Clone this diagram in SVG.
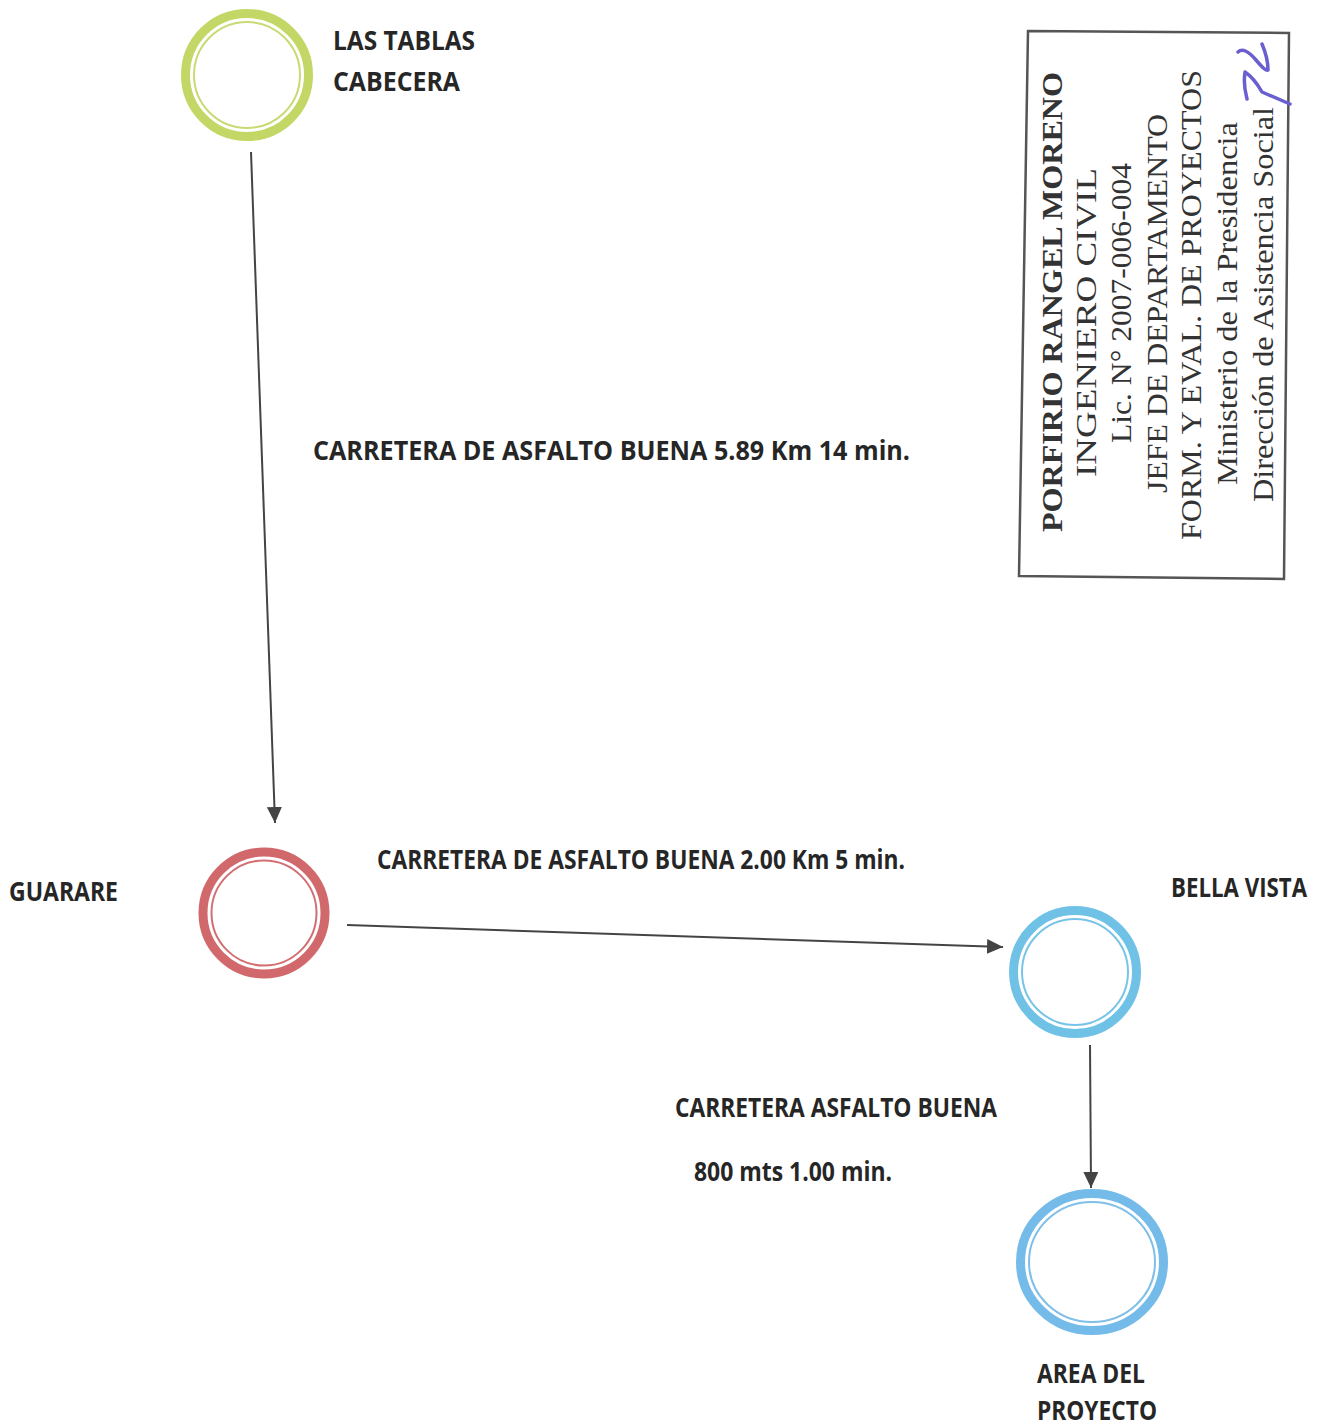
<svg xmlns="http://www.w3.org/2000/svg" width="1323" height="1427" viewBox="0 0 1323 1427">
<defs>
<style>
.lbl{font-family:"Open Sans","Liberation Sans",sans-serif;font-weight:700;font-size:26px;fill:#262626;}
.stamp{font-family:"Liberation Serif","DejaVu Serif",serif;font-size:30px;fill:#333;}
.edge{stroke:#444;stroke-width:2;fill:none;}
.thin{fill:none;stroke-width:2;}
.thick{fill:none;stroke-width:9;}
</style>
<marker id="ah" markerUnits="userSpaceOnUse" markerWidth="17" markerHeight="15" refX="16" refY="7.5" orient="auto">
<path d="M0,0 L16,7.5 L0,15 z" fill="#444"/>
</marker>
</defs>
<rect width="1323" height="1427" fill="#ffffff"/>

<g id="connectors">
<line class="edge" x1="251" y1="152" x2="275" y2="823" marker-end="url(#ah)"/>
<line class="edge" x1="347" y1="925" x2="1003" y2="947" marker-end="url(#ah)"/>
<line class="edge" x1="1090" y1="1045" x2="1091" y2="1188" marker-end="url(#ah)"/>
</g>

<g id="las-tablas">
<circle class="thick" cx="247" cy="75" r="61.5" stroke="#c3d766"/>
<circle class="thin" cx="247" cy="75" r="53" stroke="#c8da74"/>
<text class="lbl" x="333" y="50" textLength="142" lengthAdjust="spacingAndGlyphs">LAS TABLAS</text>
<text class="lbl" x="333" y="91" textLength="127" lengthAdjust="spacingAndGlyphs">CABECERA</text>
</g>

<g id="guarare">
<circle class="thick" cx="264" cy="913" r="61" stroke="#d0686c"/>
<circle class="thin" cx="264" cy="913" r="52.5" stroke="#d26f73"/>
<text class="lbl" x="9" y="901" textLength="109" lengthAdjust="spacingAndGlyphs">GUARARE</text>
</g>

<g id="bella-vista">
<circle class="thick" cx="1075" cy="972" r="61.5" stroke="#6fc2e6"/>
<circle class="thin" cx="1075" cy="972" r="53" stroke="#78c4e6"/>
<text class="lbl" x="1307" y="897" font-size="24" text-anchor="end" textLength="136" lengthAdjust="spacingAndGlyphs">BELLA VISTA</text>
</g>

<g id="area-del-proyecto">
<ellipse class="thick" cx="1092" cy="1262" rx="71.5" ry="68.5" stroke="#74bbea"/>
<ellipse class="thin" cx="1092" cy="1262" rx="63" ry="60" stroke="#7fbfe8"/>
<text class="lbl" x="1037" y="1383" textLength="108" lengthAdjust="spacingAndGlyphs">AREA DEL</text>
<text class="lbl" x="1037" y="1420" textLength="120" lengthAdjust="spacingAndGlyphs">PROYECTO</text>
</g>

<g id="edge-labels">
<text class="lbl" x="313" y="460" textLength="597" lengthAdjust="spacingAndGlyphs">CARRETERA DE ASFALTO BUENA 5.89 Km 14 min.</text>
<text class="lbl" x="377" y="869" textLength="528" lengthAdjust="spacingAndGlyphs">CARRETERA DE ASFALTO BUENA 2.00 Km 5 min.</text>
<text class="lbl" x="675" y="1117" textLength="322" lengthAdjust="spacingAndGlyphs">CARRETERA ASFALTO BUENA</text>
<text class="lbl" x="694" y="1181" textLength="198" lengthAdjust="spacingAndGlyphs">800 mts 1.00 min.</text>
</g>

<g id="stamp">
<polygon points="1028,31 1289,33 1284,579 1019,576" fill="none" stroke="#555" stroke-width="2.5"/>
<text class="stamp" font-weight="700" font-size="32" transform="translate(1062,532) rotate(-90)" textLength="460" lengthAdjust="spacingAndGlyphs">PORFIRIO RANGEL MORENO</text>
<text class="stamp" transform="translate(1096,477) rotate(-90)" textLength="309" lengthAdjust="spacingAndGlyphs">INGENIERO CIVIL</text>
<text class="stamp" transform="translate(1131,443) rotate(-90)" textLength="280" lengthAdjust="spacingAndGlyphs">Lic. N° 2007-006-004</text>
<text class="stamp" transform="translate(1167,493) rotate(-90)" textLength="379" lengthAdjust="spacingAndGlyphs">JEFE DE DEPARTAMENTO</text>
<text class="stamp" transform="translate(1201,540) rotate(-90)" textLength="470" lengthAdjust="spacingAndGlyphs">FORM. Y EVAL. DE PROYECTOS</text>
<text class="stamp" transform="translate(1237,485) rotate(-90)" textLength="363" lengthAdjust="spacingAndGlyphs">Ministerio de la Presidencia</text>
<text class="stamp" transform="translate(1273,502) rotate(-90)" textLength="395" lengthAdjust="spacingAndGlyphs">Dirección de Asistencia Social</text>
<path d="M1238,52 Q1244,46 1256,60 Q1266,72 1268,70 Q1268,58 1262,44 M1247,99 Q1243,84 1245,72 Q1254,78 1262,92 L1290,104" fill="none" stroke="#6b5fd0" stroke-width="3.5" stroke-linecap="round" stroke-linejoin="round"/>
</g>
</svg>
